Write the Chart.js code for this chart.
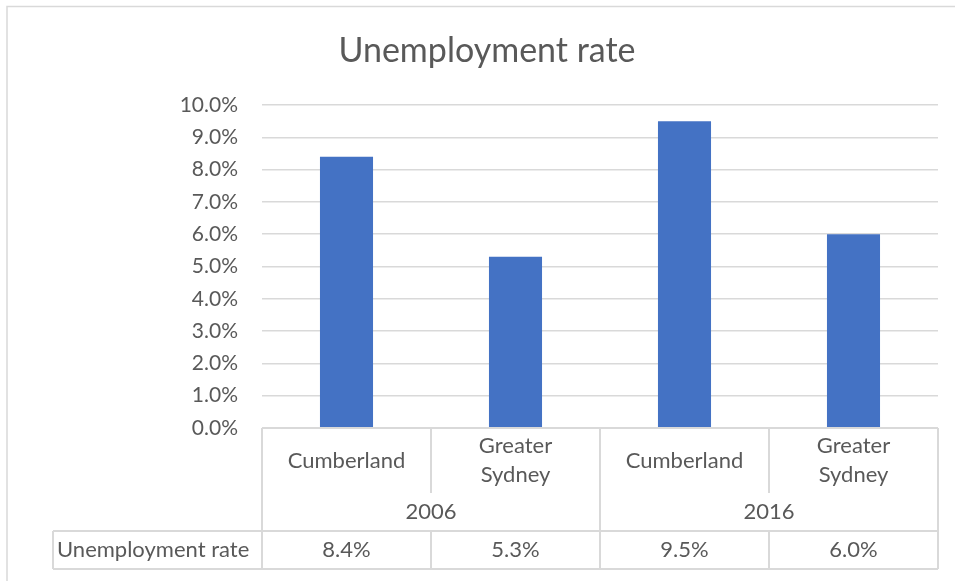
<!DOCTYPE html>
<html>
<head>
<meta charset="utf-8">
<title>Unemployment rate</title>
<script src="https://cdn.jsdelivr.net/npm/chart.js@4.4.1/dist/chart.umd.min.js"></script>
<style>
  body { margin: 0; background: #fff; }
  #wrap { width: 955px; height: 581px; position: relative; }
</style>
</head>
<body>
<div id="wrap"><canvas id="unemploymentChart" width="955" height="581"></canvas></div>
<script>
// Daten
var chartTitle = 'Unemployment rate';
var seriesName = 'Unemployment rate';
var regions = ['Cumberland', ['Greater', 'Sydney'], 'Cumberland', ['Greater', 'Sydney']];
var years = ['2006', '2016'];
var yearOfCategory = [0, 0, 1, 1];
var rates = [0.084, 0.053, 0.095, 0.060];
var yMin = 0;
var yMax = 0.10;
var yStep = 0.01;

var textColor = '#595959';
var lineColor = '#d9d9d9';
var fontFamily = 'Lato, "Open Sans", sans-serif';

function pct(v) {
  return (v * 100).toFixed(1) + '%';
}

// Titel, Rahmen und Datentabelle unter der Achse
var tablePlugin = {
  id: 'dataTable',
  afterDraw: function (chart) {
    var c = chart.ctx;
    var xs = chart.scales.x;
    var area = chart.chartArea;
    var n = regions.length;
    var catW = (area.right - area.left) / n;
    var top = area.bottom;
    var sepBottom = 493;
    var rowTop = 531;
    var rowBottom = 569;
    var headLeft = 53;

    c.save();
    // Rahmen des Diagramms
    c.strokeStyle = lineColor;
    c.lineWidth = 1.5;
    c.beginPath();
    c.moveTo(7, 590);
    c.lineTo(7, 6.5);
    c.lineTo(960, 6.5);
    c.stroke();

    // Titel
    c.fillStyle = textColor;
    c.font = '34px ' + fontFamily;
    c.textAlign = 'center';
    c.textBaseline = 'alphabetic';
    c.fillText(chartTitle, 487, 62);

    // Linien der Tabelle
    c.lineWidth = 2;
    c.beginPath();
    c.moveTo(area.left, top);
    c.lineTo(area.right, top);
    c.moveTo(headLeft, rowTop);
    c.lineTo(area.right, rowTop);
    c.moveTo(headLeft, rowBottom);
    c.lineTo(area.right, rowBottom);
    c.moveTo(headLeft, rowTop);
    c.lineTo(headLeft, rowBottom);
    for (var i = 0; i <= n; i++) {
      var x = area.left + i * catW;
      var full = i === 0 || i === n || yearOfCategory[i] !== yearOfCategory[i - 1];
      if (full) {
        c.moveTo(x, top);
        c.lineTo(x, rowBottom);
      } else {
        c.moveTo(x, top);
        c.lineTo(x, sepBottom);
        c.moveTo(x, rowTop);
        c.lineTo(x, rowBottom);
      }
    }
    c.stroke();

    // Kategorien
    c.fillStyle = textColor;
    c.font = '22px ' + fontFamily;
    c.textAlign = 'center';
    for (var j = 0; j < n; j++) {
      var cx = xs.getPixelForValue(j);
      var lbl = regions[j];
      if (Array.isArray(lbl)) {
        c.fillText(lbl[0], cx, 453);
        c.fillText(lbl[1], cx, 482);
      } else {
        c.fillText(lbl, cx, 468);
      }
      c.fillText(pct(rates[j]), cx, 557);
    }

    // Jahre
    for (var k = 0; k < years.length; k++) {
      var first = yearOfCategory.indexOf(k);
      var last = yearOfCategory.lastIndexOf(k);
      var gx = (xs.getPixelForValue(first) + xs.getPixelForValue(last)) / 2;
      c.fillText(years[k], gx, 519);
    }

    // Zeilenkopf
    c.textAlign = 'left';
    c.fillText(seriesName, 57, 557);
    c.restore();
  }
};

var ctx = document.getElementById('unemploymentChart').getContext('2d');
var chart = new Chart(ctx, {
  type: 'bar',
  data: {
    labels: regions.map(function (r) { return Array.isArray(r) ? r.join(' ') : r; }),
    datasets: [{
      label: seriesName,
      data: rates,
      backgroundColor: '#4472c4',
      borderWidth: 0,
      barPercentage: 0.314,
      categoryPercentage: 1
    }]
  },
  options: {
    responsive: false,
    animation: false,
    layout: {
      padding: { left: 100, right: 17, top: 105, bottom: 0 }
    },
    plugins: {
      legend: { display: false },
      title: { display: false },
      tooltip: { enabled: false }
    },
    scales: {
      x: {
        ticks: { display: false },
        grid: { display: false },
        border: { display: false },
        afterFit: function (scale) { scale.height = 153; }
      },
      y: {
        min: yMin,
        max: yMax,
        ticks: {
          stepSize: yStep,
          color: textColor,
          padding: 24,
          font: { family: fontFamily, size: 21 },
          callback: function (v) { return pct(v); }
        },
        grid: { color: lineColor, lineWidth: 1.5, drawTicks: false },
        border: { display: false },
        afterFit: function (scale) { scale.width = 162; }
      }
    }
  },
  plugins: [tablePlugin]
});
</script>
</body>
</html>
